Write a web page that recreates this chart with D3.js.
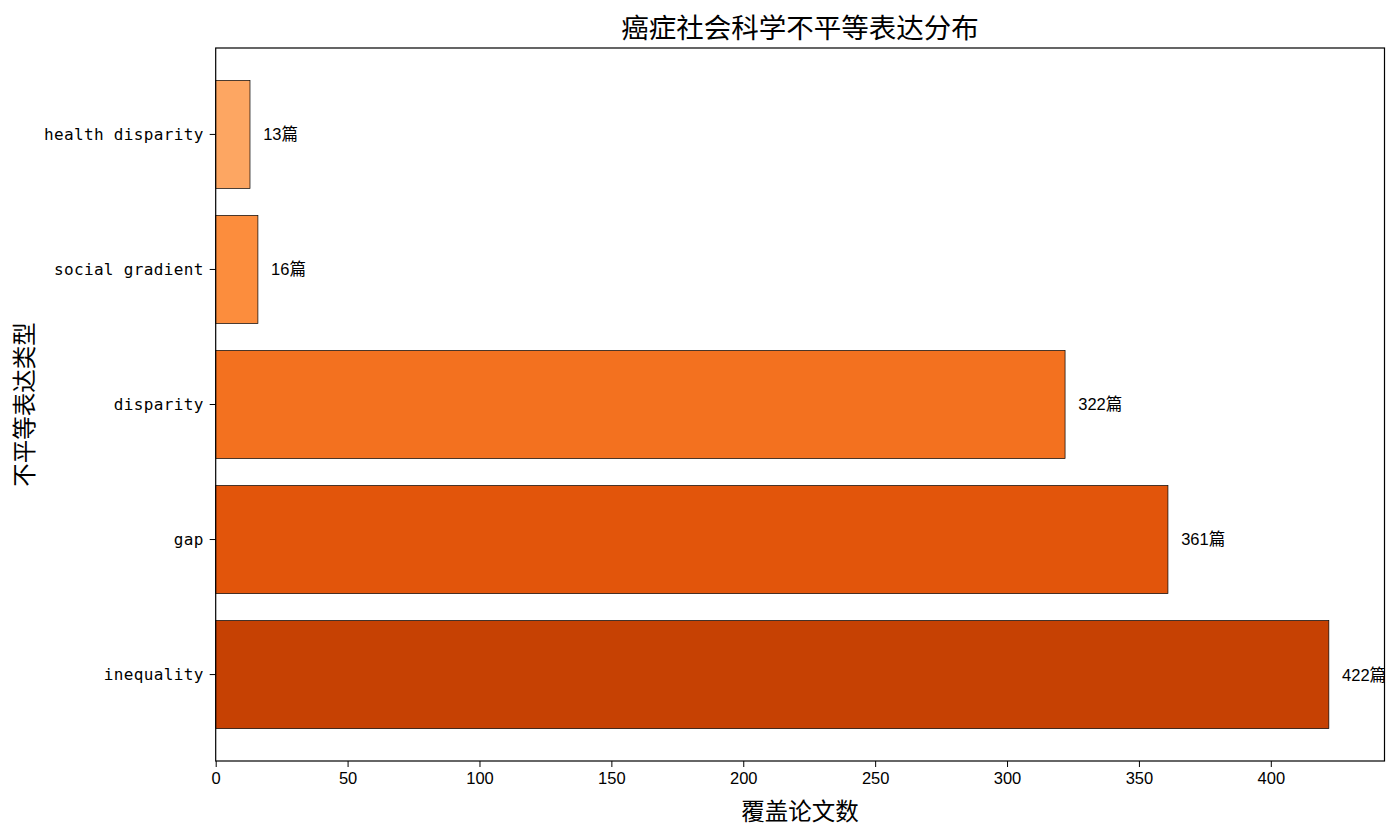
<!DOCTYPE html>
<html>
<head>
<meta charset="utf-8">
<script src="https://cdn.jsdelivr.net/npm/d3@7/dist/d3.min.js"></script>
<style>
  html, body { margin: 0; padding: 0; background: #fff; }
  svg { display: block; }
</style>
</head>
<body>
<svg id="chart" width="1400" height="835"></svg>
<script>
// Data (bottom to top as in the reference)
const categories = ["inequality", "gap", "disparity", "social gradient", "health disparity"];
const counts = [422, 361, 322, 16, 13];
const barColors = ["#C64103", "#E2550B", "#F3711F", "#FC8D3D", "#FDA662"];
const xTicks = [0, 50, 100, 150, 200, 250, 300, 350, 400];
const titleText = "癌症社会科学不平等表达分布";
const xLabelText = "覆盖论文数";
const yLabelText = "不平等表达类型";
const valueSuffix = "篇";

const W = 1400, H = 835;
const m = { left: 215.7, right: 1384.5, top: 48, bottom: 761 };
const svg = d3.select("#chart");

const x = d3.scaleLinear().domain([0, d3.max(counts) * 1.05]).range([m.left, m.right]);
const y = d3.scaleBand()
  .domain(categories)
  .range([m.bottom, m.top])
  .paddingInner(0.2)
  .paddingOuter(0.24);

const data = categories.map((c, i) => ({ c, v: counts[i], col: barColors[i] }));

svg.append("defs").append("clipPath").attr("id", "plotclip")
  .append("rect")
  .attr("x", m.left).attr("y", m.top)
  .attr("width", m.right - m.left).attr("height", m.bottom - m.top);

// Bars
svg.append("g").selectAll("rect").data(data).join("rect")
  .attr("x", x(0))
  .attr("y", d => y(d.c))
  .attr("width", d => x(d.v) - x(0))
  .attr("height", y.bandwidth())
  .attr("fill", d => d.col)
  .attr("stroke", "#000")
  .attr("stroke-width", 0.7);

// Value labels (clipped to axes like the reference)
svg.append("g").attr("clip-path", "url(#plotclip)")
  .selectAll("text").data(data).join("text")
  .attr("x", d => x(d.v + 5))
  .attr("y", d => y(d.c) + y.bandwidth() / 2)
  .attr("dy", "0.36em")
  .attr("font-family", "'Liberation Sans', 'Noto Sans CJK SC', sans-serif")
  .attr("font-size", 16.5)
  .attr("fill", "#000")
  .text(d => d.v + valueSuffix);

// X axis
const xAxis = svg.append("g")
  .attr("transform", `translate(0,${m.bottom})`)
  .call(d3.axisBottom(x).tickValues(xTicks).tickSize(6).tickPadding(5).tickFormat(d3.format("d")));
xAxis.select(".domain").remove();
xAxis.selectAll("line").attr("stroke", "#000").attr("stroke-width", 1);
xAxis.selectAll("text")
  .attr("font-family", "'Liberation Sans', 'Noto Sans CJK SC', sans-serif")
  .attr("font-size", 16.5).attr("fill", "#000");

// Y axis
const yAxis = svg.append("g")
  .attr("transform", `translate(${m.left},0)`)
  .call(d3.axisLeft(y).tickSize(6).tickPadding(6));
yAxis.select(".domain").remove();
yAxis.selectAll("line").attr("stroke", "#000").attr("stroke-width", 1);
yAxis.selectAll("text")
  .attr("font-family", "'DejaVu Sans Mono', 'Liberation Mono', monospace")
  .attr("font-size", 16).attr("letter-spacing", 0.35).attr("fill", "#000");

// Frame
svg.append("rect")
  .attr("x", m.left).attr("y", m.top)
  .attr("width", m.right - m.left).attr("height", m.bottom - m.top)
  .attr("fill", "none").attr("stroke", "#000").attr("stroke-width", 1.2);

// Title
svg.append("text")
  .attr("x", (m.left + m.right) / 2).attr("y", 38)
  .attr("text-anchor", "middle")
  .attr("font-family", "'Noto Sans CJK SC', sans-serif")
  .attr("font-size", 27.5).attr("fill", "#000")
  .text(titleText);

// X label
svg.append("text")
  .attr("x", (m.left + m.right) / 2).attr("y", 820)
  .attr("text-anchor", "middle")
  .attr("font-family", "'Noto Sans CJK SC', sans-serif")
  .attr("font-size", 23.5).attr("fill", "#000")
  .text(xLabelText);

// Y label
svg.append("text")
  .attr("transform", `translate(33,${(m.top + m.bottom) / 2}) rotate(-90)`)
  .attr("text-anchor", "middle")
  .attr("font-family", "'Noto Sans CJK SC', sans-serif")
  .attr("font-size", 23.5).attr("fill", "#000")
  .text(yLabelText);
</script>
</body>
</html>
